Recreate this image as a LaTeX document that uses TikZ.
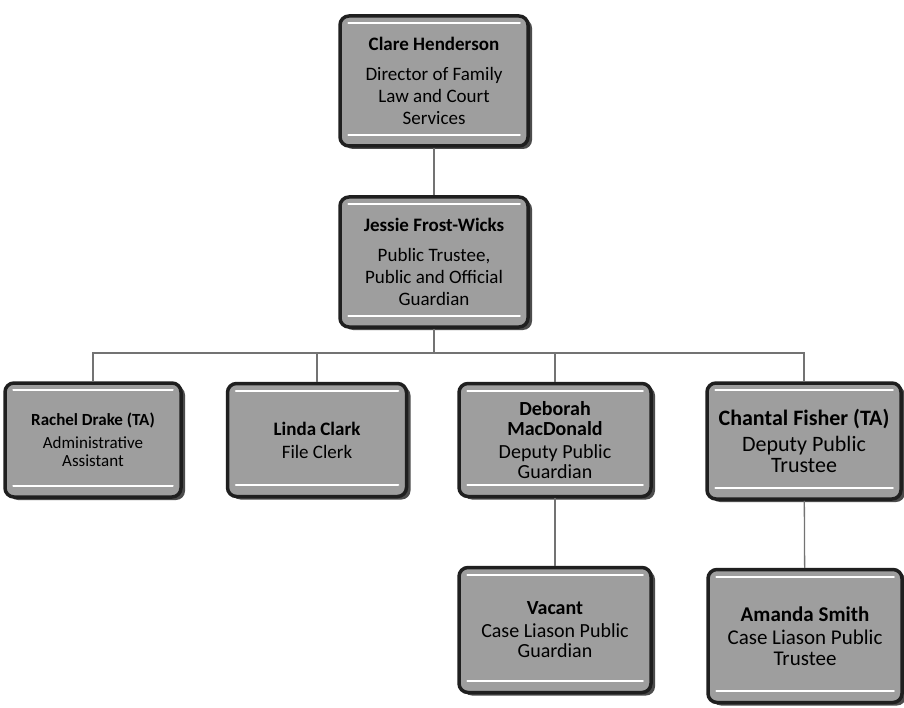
\documentclass[tikz,border=0pt]{standalone}
\usepackage{fontspec}
\setmainfont{Carlito}
\usetikzlibrary{shadows}
\begin{document}
\begin{tikzpicture}[x=1pt,y=-1pt,
  orgbox/.style={draw=black!88, line width=3.5pt, fill=black!38, rounded corners=9pt,
    align=center, inner sep=0pt, text=black,
    drop shadow={shadow xshift=4pt, shadow yshift=-3pt, fill=black!70, opacity=1}},
  hl/.style={draw=white, line width=2pt, line cap=round},
  link/.style={draw=black!55, line width=1.3pt}]
\useasboundingbox (0,0) rectangle (904,708);
\fill[white] (0,0) rectangle (904,708);

\node[orgbox, minimum width=188pt, minimum height=130pt, font=\fontsize{19}{22}\selectfont] (ch) at (434,81)
  {\textbf{Clare Henderson}\\[8pt] Director of Family\\ Law and Court\\ Services};
\node[orgbox, minimum width=188pt, minimum height=130pt, font=\fontsize{19}{22}\selectfont] (jf) at (434,262)
  {\textbf{Jessie Frost-Wicks}\\[8pt] Public Trustee,\\ Public and Official\\ Guardian};
\node[orgbox, minimum width=176pt, minimum height=114pt, font=\fontsize{17}{18}\selectfont] (rd) at (93,440)
  {\textbf{Rachel Drake (TA)}\\[5pt] Administrative\\ Assistant};
\node[orgbox, minimum width=179pt, minimum height=113pt, font=\fontsize{19}{21}\selectfont] (lc) at (317,440)
  {\textbf{Linda Clark}\\[2pt] File Clerk};
\node[orgbox, minimum width=192pt, minimum height=113pt, font=\fontsize{20}{20}\selectfont] (dm) at (555,440)
  {\textbf{Deborah}\\ \textbf{MacDonald}\\[3pt] Deputy Public\\ Guardian};
\node[orgbox, minimum width=194pt, minimum height=116pt, font=\fontsize{22}{21}\selectfont] (cf) at (804,441)
  {\textbf{Chantal Fisher (TA)}\\[5pt] Deputy Public\\ Trustee};
\node[orgbox, minimum width=192pt, minimum height=125pt, font=\fontsize{20}{20}\selectfont] (va) at (555,630)
  {\textbf{Vacant}\\[3pt] Case Liason Public\\ Guardian};
\node[orgbox, minimum width=194pt, minimum height=133pt, font=\fontsize{21}{21}\selectfont] (am) at (805,636)
  {\textbf{Amanda Smith}\\[2pt] Case Liason Public\\ Trustee};

\foreach \n in {ch,jf,rd,lc,dm,cf,va,am} {
  \draw[hl] ([xshift=10pt,yshift=-9pt]\n.north west) -- ([xshift=-10pt,yshift=-9pt]\n.north east);
  \draw[hl] ([xshift=10pt,yshift=13pt]\n.south west) -- ([xshift=-10pt,yshift=13pt]\n.south east);
}

\coordinate (bus) at (434,353);
\draw[link] (ch) -- (jf);
\draw[link] (jf.south) -- (bus);
\draw[link] (rd.north) -- (rd.north |- bus) -- (cf.north |- bus) -- (cf.north);
\draw[link] (lc.north) -- (lc.north |- bus);
\draw[link] (dm.north) -- (dm.north |- bus);
\draw[link] (dm) -- (va);
\draw[link] (cf) -- (am);
\end{tikzpicture}
\end{document}
